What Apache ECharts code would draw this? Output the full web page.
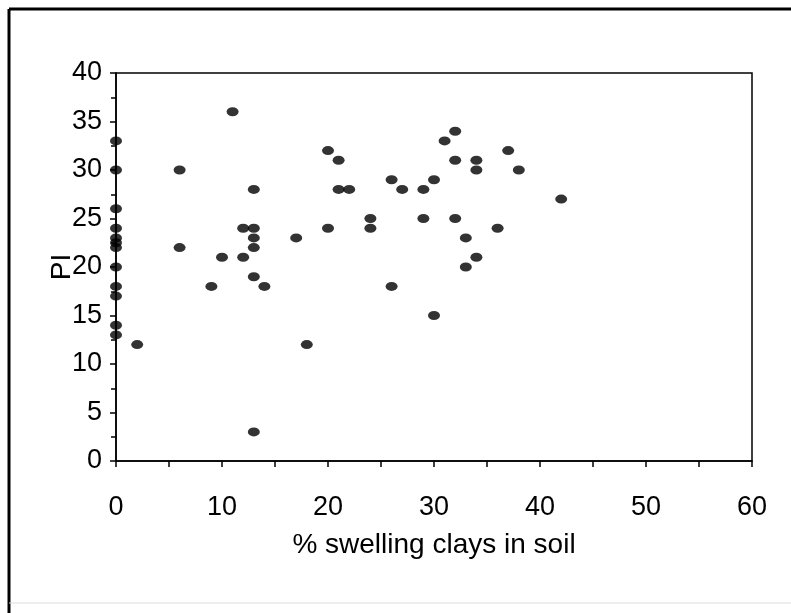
<!DOCTYPE html>
<html>
<head>
<meta charset="utf-8">
<script src="https://cdn.jsdelivr.net/npm/echarts@6/dist/echarts.min.js"></script>
<style>
  html, body { margin: 0; padding: 0; background: #fff; }
  #chart { width: 791px; height: 613px; }
</style>
</head>
<body>
<div id="chart"></div>
<script>
  // % swelling clays in soil
  var clayPct = [
    0, 0, 0, 0, 0, 0, 0, 0, 0, 0, 0, 0,
    2, 6, 6, 9, 10, 11, 12, 12,
    13, 13, 13, 13, 13, 13, 14, 17, 18,
    20, 20, 21, 21, 22, 24, 24, 26, 26, 27,
    29, 29, 30, 30, 31, 32, 32, 32, 33, 33,
    34, 34, 34, 36, 37, 38, 42
  ];
  // PI
  var plasticity = [
    33, 30, 26, 24, 23, 22.5, 22, 20, 18, 17, 14, 13,
    12, 30, 22, 18, 21, 36, 24, 21,
    28, 24, 23, 22, 19, 3, 18, 23, 12,
    32, 24, 31, 28, 28, 25, 24, 29, 18, 28,
    28, 25, 29, 15, 33, 34, 31, 25, 23, 20,
    31, 30, 21, 24, 32, 30, 27
  ];

  var points = clayPct.map(function (x, i) {
    return [x, plasticity[i]];
  });

  var chart = echarts.init(document.getElementById('chart'));

  var labelFont = {
    color: '#000',
    fontFamily: 'Liberation Sans, Arial, sans-serif',
    fontSize: 27
  };
  var nameFont = {
    color: '#000',
    fontFamily: 'Liberation Sans, Arial, sans-serif',
    fontSize: 28
  };

  var option = {
    backgroundColor: '#fff',
    animation: false,
    grid: {
      left: 116,
      right: 39,
      top: 73,
      bottom: 152,
      show: true,
      borderColor: '#000',
      borderWidth: 1.5
    },
    xAxis: {
      type: 'value',
      min: 0,
      max: 60,
      interval: 10,
      name: '% swelling clays in soil',
      nameLocation: 'middle',
      nameGap: 70,
      nameMoveOverlap: false,
      nameTextStyle: nameFont,
      axisLine: { show: true, lineStyle: { color: '#000', width: 1.5 } },
      axisTick: { show: true, inside: false, length: 6, lineStyle: { color: '#000', width: 1.5 } },
      minorTick: { show: true, splitNumber: 2, length: 6, lineStyle: { color: '#000', width: 1.5 } },
      axisLabel: Object.assign({ margin: 33 }, labelFont),
      splitLine: { show: false }
    },
    yAxis: {
      type: 'value',
      min: 0,
      max: 40,
      interval: 5,
      name: 'PI',
      nameLocation: 'middle',
      nameGap: 40,
      nameMoveOverlap: false,
      nameTextStyle: nameFont,
      axisLine: { show: true, lineStyle: { color: '#000', width: 1.5 } },
      axisTick: { show: true, inside: false, length: 6, lineStyle: { color: '#000', width: 1.5 } },
      minorTick: { show: true, splitNumber: 2, length: 5, lineStyle: { color: '#000', width: 1.5 } },
      axisLabel: Object.assign({ margin: 14 }, labelFont),
      splitLine: { show: false }
    },
    graphic: [
      // outer frame of the figure
      { type: 'line', shape: { x1: 9, y1: 9, x2: 791, y2: 9 }, style: { stroke: '#000', lineWidth: 3 } },
      { type: 'line', shape: { x1: 9, y1: 9, x2: 9, y2: 613 }, style: { stroke: '#000', lineWidth: 3 } },
      { type: 'line', shape: { x1: 9, y1: 603, x2: 791, y2: 603 }, style: { stroke: '#ddd', lineWidth: 1 } }
    ],
    series: [{
      type: 'scatter',
      data: points,
      symbol: 'circle',
      symbolSize: [12, 9],
      itemStyle: { color: '#000' },
      silent: true
    }]
  };

  chart.setOption(option);
</script>
</body>
</html>
